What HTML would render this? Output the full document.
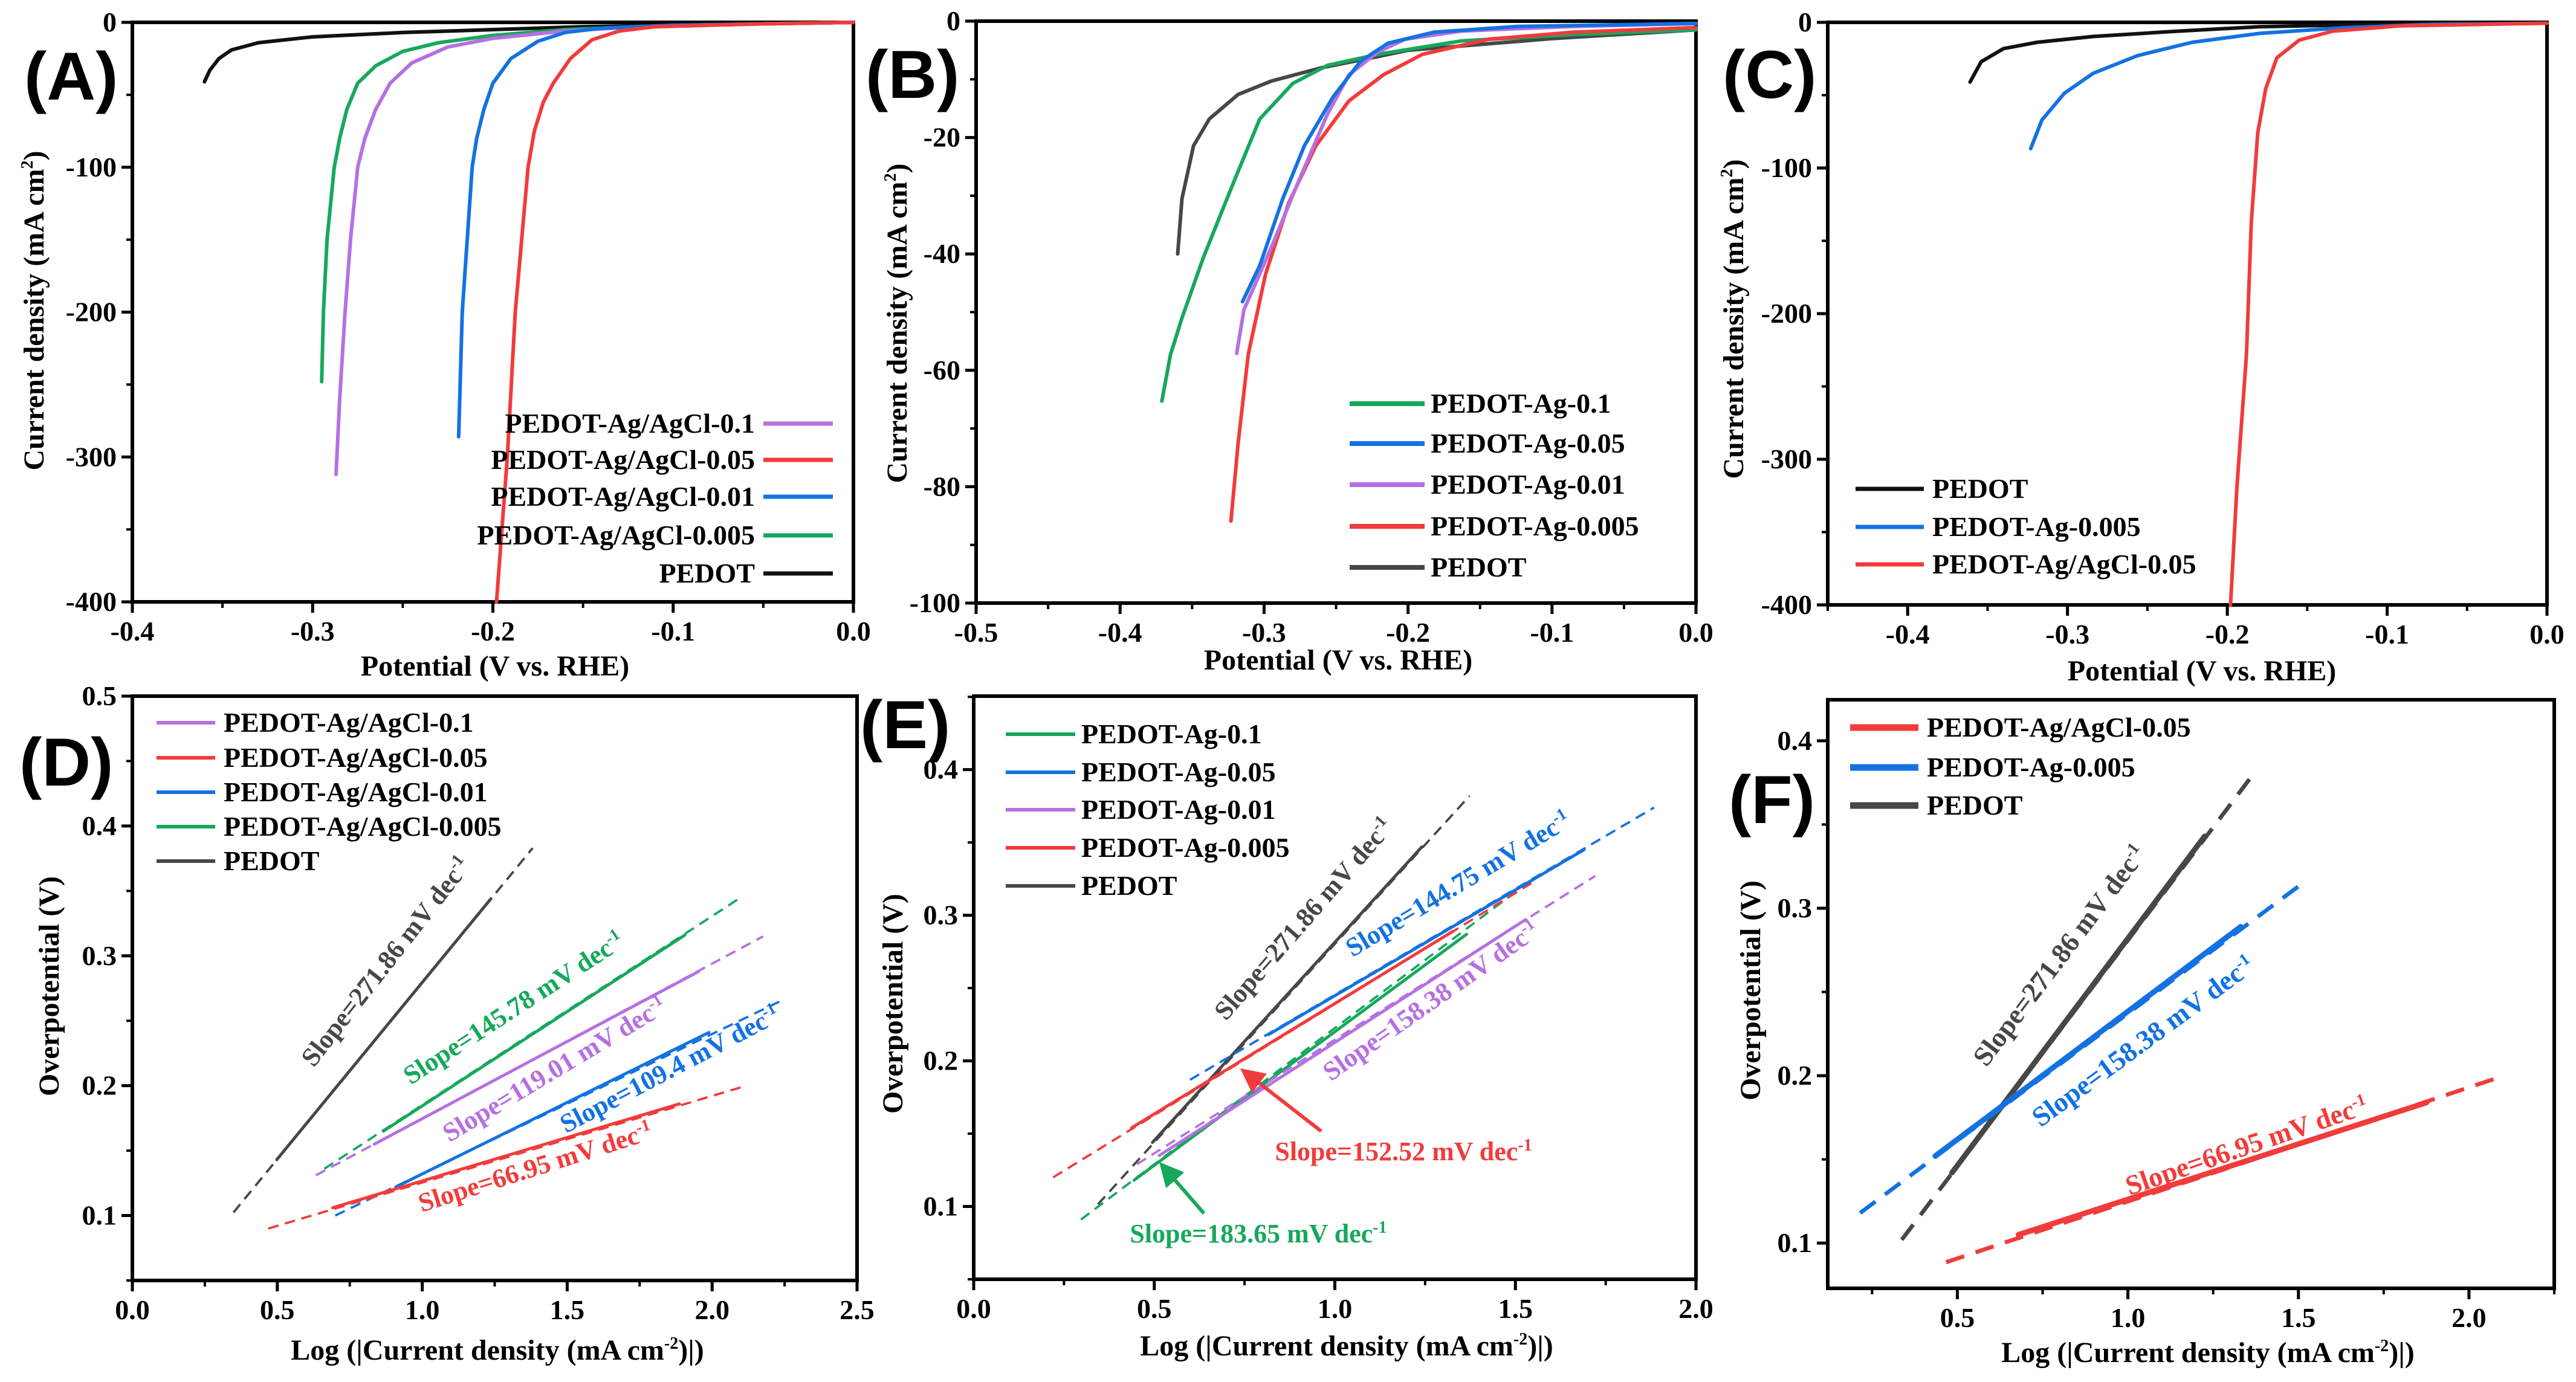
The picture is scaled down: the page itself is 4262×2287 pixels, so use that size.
<!DOCTYPE html>
<html><head><meta charset="utf-8"><style>html,body{margin:0;padding:0;background:#fff}svg{display:block}svg text{font-family:"Liberation Serif","DejaVu Serif",serif;font-weight:bold}svg text.sans{font-family:"Liberation Sans",sans-serif}</style></head>
<body>
<svg id="fig" xmlns="http://www.w3.org/2000/svg" width="4262" height="2287" viewBox="0 0 4262 2287">
<rect width="4262" height="2287" fill="#fff"/>
</svg>
<script>
// ---------- data ----------
const A_pedot = [[-0.36,-41],[-0.357,-33],[-0.352,-25],[-0.345,-19],[-0.33,-14],[-0.3,-10],[-0.25,-7],[-0.2,-5],[-0.15,-3],[-0.1,-2],[-0.05,-1],[0,0]];
const A_agcl005 = [[-0.295,-248],[-0.294,-200],[-0.292,-150],[-0.288,-100],[-0.285,-80],[-0.281,-60],[-0.275,-42],[-0.265,-30],[-0.25,-20],[-0.23,-14],[-0.2,-9],[-0.16,-5],[-0.12,-3],[-0.05,-1],[0,0]];
const A_agcl01 = [[-0.287,-312],[-0.285,-260],[-0.282,-200],[-0.279,-150],[-0.275,-100],[-0.271,-80],[-0.265,-60],[-0.257,-42],[-0.245,-28],[-0.225,-17],[-0.2,-11],[-0.16,-6],[-0.12,-3],[-0.05,-1],[0,0]];
const A_agcl001 = [[-0.219,-286],[-0.217,-200],[-0.2115,-100],[-0.209,-80],[-0.205,-60],[-0.2,-42],[-0.19,-25],[-0.175,-13],[-0.16,-7],[-0.14,-4],[-0.1,-2],[-0.05,-1],[0,0]];
const A_agcl0005 = [[-0.198,-400],[-0.192,-300],[-0.1876,-200],[-0.1805,-100],[-0.177,-75],[-0.172,-55],[-0.1665,-42],[-0.157,-25],[-0.145,-12],[-0.13,-6],[-0.11,-3],[-0.05,-1],[0,0]];

const B_pedot = [[-0.36,-40],[-0.357,-30.5],[-0.349,-21.4],[-0.338,-16.8],[-0.318,-12.6],[-0.295,-10.3],[-0.26,-8],[-0.221,-6.1],[-0.2,-5],[-0.1,-3],[0,-1.5]];
const B_ag01 = [[-0.371,-65.3],[-0.365,-57.3],[-0.357,-51],[-0.342,-40.5],[-0.322,-28.2],[-0.303,-16.8],[-0.28,-10.7],[-0.256,-7.6],[-0.221,-5.7],[-0.163,-3.4],[-0.085,-2.3],[0,-1.5]];
const B_ag005 = [[-0.315,-48.2],[-0.303,-42],[-0.287,-30.5],[-0.272,-21.4],[-0.252,-13],[-0.233,-6.9],[-0.214,-3.8],[-0.182,-1.9],[-0.124,-0.9],[0,-0.4]];
const B_ag001 = [[-0.319,-57.1],[-0.314,-49.6],[-0.295,-38.9],[-0.276,-27.5],[-0.256,-16],[-0.241,-9.2],[-0.221,-5.3],[-0.202,-3.1],[-0.163,-1.7],[-0.085,-0.9],[0,-0.4]];
const B_ag0005 = [[-0.323,-85.9],[-0.318,-72.5],[-0.311,-57.3],[-0.299,-43.5],[-0.283,-31.3],[-0.264,-21.4],[-0.241,-13.7],[-0.217,-9.2],[-0.19,-5.7],[-0.144,-3.1],[-0.085,-1.9],[0,-1.1]];

const C_pedot = [[-0.361,-41],[-0.354,-27],[-0.34,-18],[-0.319,-13.7],[-0.284,-9.7],[-0.232,-6.1],[-0.18,-3],[-0.11,-1.5],[-0.051,-0.6]];
const C_ag0005 = [[-0.323,-86.7],[-0.316,-67],[-0.302,-48.7],[-0.284,-35],[-0.256,-22.8],[-0.222,-13.7],[-0.18,-7.6],[-0.127,-3.7],[-0.075,-1.5],[0,-0.6]];
const C_agcl005 = [[-0.198,-400],[-0.194,-319],[-0.188,-228],[-0.185,-137],[-0.181,-76],[-0.176,-45.6],[-0.169,-24.3],[-0.155,-12.2],[-0.134,-6],[-0.092,-2.4],[0,-0.6]];

// Tafel: [dashStart, solidStart, solidEnd, dashEnd] as [log j, eta]
const D_pedot = [[0.349,0.1024],[0.498,0.143],[1.237,0.344],[1.381,0.383]];
const D_agcl0005 = [[0.662,0.136],[0.866,0.165],[1.906,0.316],[2.099,0.345]];
const D_agcl01 = [[0.633,0.131],[0.835,0.155],[1.954,0.288],[2.176,0.315]];
const D_agcl001 = [[0.700,0.100],[0.909,0.122],[1.989,0.241],[2.234,0.265]];
const D_agcl005 = [[0.469,0.090],[0.691,0.106],[1.887,0.186],[2.118,0.200]];

const E_pedot = [[0.344,0.1015],[0.495,0.144],[1.241,0.347],[1.373,0.382]];
const E_ag01 = [[0.297,0.091],[0.444,0.118],[1.365,0.287],[1.505,0.317]];
const E_ag005 = [[0.599,0.187],[0.816,0.218],[1.690,0.345],[1.884,0.374]];
const E_ag001 = [[0.452,0.129],[0.514,0.135],[1.528,0.297],[1.721,0.327]];
const E_ag0005 = [[0.220,0.120],[0.437,0.154],[1.327,0.289],[1.544,0.322]];

const F_pedot = [[0.337,0.102],[0.484,0.142],[1.225,0.343],[1.371,0.381]];
const F_ag0005 = [[0.215,0.118],[0.435,0.152],[1.331,0.289],[1.526,0.317]];
const F_agcl005 = [[0.467,0.0886],[0.679,0.105],[1.876,0.184],[2.088,0.199]];

const ticksTopA_x = [-0.4,-0.3,-0.2,-0.1,0];
const ticksTopB_x = [-0.5,-0.4,-0.3,-0.2,-0.1,0];
const ticksTop_y400 = [0,-100,-200,-300,-400];
const ticksTop_y100 = [0,-20,-40,-60,-80,-100];
const ticksD_x = [0,0.5,1.0,1.5,2.0,2.5];
const ticksE_x = [0,0.5,1.0,1.5,2.0];
const ticksF_x = [0.5,1.0,1.5,2.0];
const ticksD_y = [0.1,0.2,0.3,0.4,0.5];
const ticksEF_y = [0.1,0.2,0.3,0.4];

// ---------- drawing ----------
const NS='http://www.w3.org/2000/svg';
const svg=document.getElementById('fig');
const COL={green:'#16a85c',purple:'#b670e2',red:'#f23b3b',blue:'#1372e2',black:'#111',gray:'#474747'};
const SERIF='Liberation Serif, serif';
function el(tag,attrs,parent){const e=document.createElementNS(NS,tag);for(const k in attrs)e.setAttribute(k,attrs[k]);(parent||svg).appendChild(e);return e;}

const P={
 A:{l:219,r:1412,t:37,b:996,x0:-0.4,x1:0,y0:-400,y1:0},
 B:{l:1615,r:2806,t:35,b:998,x0:-0.5,x1:0,y0:-100,y1:0},
 C:{l:3024,r:4214,t:37,b:1001,x0:-0.45,x1:0,y0:-400,y1:0},
 D:{l:219,r:1418,t:1152,b:2119,x0:0,x1:2.5,y0:0.05,y1:0.5},
 E:{l:1611,r:2806,t:1152,b:2117,x0:0,x1:2,y0:0.05,y1:0.4505},
 F:{l:3024,r:4226,t:1158,b:2132,x0:0.12,x1:2.25,y0:0.073,y1:0.4245}
};
function sx(p,v){return p.l+(v-p.x0)/(p.x1-p.x0)*(p.r-p.l);}
function sy(p,v){return p.b-(v-p.y0)/(p.y1-p.y0)*(p.b-p.t);}

function axes(key,xt,yt,xstep,ystep,fmtX,fmtY){
  const p=P[key];
  const g=el('g',{});
  
  
  for(let k=Math.ceil(p.x0/(xstep/2)-1e-9);k*xstep/2<=p.x1+1e-9;k++){const x=sx(p,k*xstep/2);el('line',{x1:x,y1:p.b,x2:x,y2:p.b+10,stroke:'#000','stroke-width':4},g);}
  for(let k=Math.ceil(p.y0/(ystep/2)-1e-9);k*ystep/2<=p.y1+1e-9;k++){const y=sy(p,k*ystep/2);el('line',{x1:p.l,y1:y,x2:p.l-10,y2:y,stroke:'#000','stroke-width':4},g);}
  xt.forEach(v=>{const x=sx(p,v);el('line',{x1:x,y1:p.b,x2:x,y2:p.b+18,stroke:'#000','stroke-width':5},g);
    const t=el('text',{x:x,y:p.b+64,'text-anchor':'middle','font-family':SERIF,'font-weight':'bold','font-size':46},g);t.textContent=fmtX(v);
    
    });
  yt.forEach(v=>{const y=sy(p,v);el('line',{x1:p.l,y1:y,x2:p.l-18,y2:y,stroke:'#000','stroke-width':5},g);
    const t=el('text',{x:p.l-26,y:y+15,'text-anchor':'end','font-family':SERIF,'font-weight':'bold','font-size':46},g);t.textContent=fmtY(v);
    
    });
  el('rect',{x:p.l,y:p.t,width:p.r-p.l,height:p.b-p.t,fill:'none',stroke:'#000','stroke-width':6},g);
}
function curve(key,pts,color,name,w){
  const p=P[key];
  const d=pts.map((q,i)=>(i?'L':'M')+sx(p,q[0]).toFixed(1)+','+sy(p,q[1]).toFixed(1)).join(' ');
  const e=el('path',{d:d,fill:'none',stroke:color,'stroke-width':w||6,'stroke-linejoin':'round','stroke-linecap':'round'});
  
  
}
function tafel(key,pts,color,name,w){
  const p=P[key];w=w||5;
  const dash=el('path',{d:'M'+sx(p,pts[0][0])+','+sy(p,pts[0][1])+' L'+sx(p,pts[3][0])+','+sy(p,pts[3][1]),fill:'none',stroke:color,'stroke-width':w*0.75,'stroke-dasharray':(w*3.5)+' '+(w*2.2)});
  
  
  const s=el('path',{d:'M'+sx(p,pts[1][0])+','+sy(p,pts[1][1])+' L'+sx(p,pts[2][0])+','+sy(p,pts[2][1]),fill:'none',stroke:color,'stroke-width':w,'stroke-linecap':'round'});
  
  
}
function txt(x,y,str,opts,name){
  const t=el('text',Object.assign({x:x,y:y,'font-family':SERIF,'font-weight':'bold','font-size':46},opts||{}));
  t.innerHTML=str;
  
  
  return t;
}
function legendRow(x1,x2,y,color,label,textX,anchor,w){
  const l=el('line',{x1:x1,y1:y,x2:x2,y2:y,stroke:color,'stroke-width':w||7});
  
  
  txt(textX,y+15,label,{'text-anchor':anchor||'start'},'legend-entry');
}
function panelLetter(x,y,s){const t=el('text',{x:x,y:y,'class':'sans','font-family':'Liberation Sans, sans-serif','font-weight':'bold','font-size':112});t.textContent=s;
  
  }
function rotTitle(cx,cy,html,name){txt(cx,cy,html,{'text-anchor':'middle','font-size':48,transform:'rotate(-90 '+cx+' '+cy+')'},name);}
function slopeLabel(cx,cy,ang,html,color,name,fs){txt(cx,cy,html,{'text-anchor':'middle',fill:color,'font-size':fs||44,transform:'rotate('+ang+' '+cx+' '+cy+')'},name);}

const f1=v=>v===0?'0.0':v.toFixed(1), fi=v=>String(v);
const sup='<tspan font-size="28" dy="-18">2</tspan><tspan dy="18">)</tspan>';
const supm='<tspan font-size="28" dy="-18">-2</tspan><tspan dy="18">)|)</tspan>';
const dec='<tspan font-size="28" dy="-16">-1</tspan>';

// ---- A ----
axes('A',ticksTopA_x,ticksTop_y400,0.1,100,f1,fi);
curve('A',A_pedot,COL.black,'curve-pedot');
curve('A',A_agcl005,COL.green,'curve-agcl-0.005');
curve('A',A_agcl01,COL.purple,'curve-agcl-0.1');
curve('A',A_agcl001,COL.blue,'curve-agcl-0.01');
curve('A',A_agcl0005,COL.red,'curve-agcl-0.05');
[['PEDOT-Ag/AgCl-0.1',COL.purple,701],['PEDOT-Ag/AgCl-0.05',COL.red,761],['PEDOT-Ag/AgCl-0.01',COL.blue,822],['PEDOT-Ag/AgCl-0.005',COL.green,886],['PEDOT',COL.black,949]].forEach(r=>legendRow(1263,1378,r[2],r[1],r[0],1249,'end'));
rotTitle(72,514,'Current density (mA cm'+sup,'y-axis-title-a');
txt(819,1118,'Potential (V vs. RHE)',{'text-anchor':'middle','font-size':48},'x-axis-title-a');
panelLetter(40,165,'(A)');

// ---- B ----
axes('B',ticksTopB_x,ticksTop_y100,0.1,20,f1,fi);
curve('B',B_pedot,COL.gray,'curve-pedot');
curve('B',B_ag01,COL.green,'curve-ag-0.1');
curve('B',B_ag0005,COL.red,'curve-ag-0.005');
curve('B',B_ag001,COL.purple,'curve-ag-0.01');
curve('B',B_ag005,COL.blue,'curve-ag-0.05');
[['PEDOT-Ag-0.1',COL.green,668],['PEDOT-Ag-0.05',COL.blue,734],['PEDOT-Ag-0.01',COL.purple,802],['PEDOT-Ag-0.005',COL.red,871],['PEDOT',COL.gray,939]].forEach(r=>legendRow(2233,2357,r[2],r[1],r[0],2367,'start',8));
rotTitle(1500,535,'Current density (mA cm'+sup,'y-axis-title-b');
txt(2214,1108,'Potential (V vs. RHE)',{'text-anchor':'middle','font-size':48},'x-axis-title-b');
panelLetter(1432,162,'(B)');

// ---- C ----
axes('C',ticksTopA_x,ticksTop_y400,0.1,100,f1,fi);
curve('C',C_pedot,COL.black,'curve-pedot');
curve('C',C_ag0005,COL.blue,'curve-ag-0.005');
curve('C',C_agcl005,COL.red,'curve-agcl-0.05');
[['PEDOT',COL.black,809],['PEDOT-Ag-0.005',COL.blue,872],['PEDOT-Ag/AgCl-0.05',COL.red,934]].forEach(r=>legendRow(3070,3183,r[2],r[1],r[0],3197,'start'));
rotTitle(2884,528,'Current density (mA cm'+sup,'y-axis-title-c');
txt(3643,1126,'Potential (V vs. RHE)',{'text-anchor':'middle','font-size':48},'x-axis-title-c');
panelLetter(2850,162,'(C)');

// ---- D ----
axes('D',ticksD_x,ticksD_y,0.5,0.1,v=>v.toFixed(1),v=>v.toFixed(1));
tafel('D',D_pedot,COL.gray,'tafel-pedot');
tafel('D',D_agcl0005,COL.green,'tafel-agcl-0.005');
tafel('D',D_agcl01,COL.purple,'tafel-agcl-0.1');
tafel('D',D_agcl001,COL.blue,'tafel-agcl-0.01');
tafel('D',D_agcl005,COL.red,'tafel-agcl-0.05');
[['PEDOT-Ag/AgCl-0.1',COL.purple,1196],['PEDOT-Ag/AgCl-0.05',COL.red,1254],['PEDOT-Ag/AgCl-0.01',COL.blue,1311],['PEDOT-Ag/AgCl-0.005',COL.green,1368],['PEDOT',COL.gray,1425]].forEach(r=>legendRow(259,356,r[2],r[1],r[0],370,'start',6));
slopeLabel(650,1600,-52,'Slope=271.86 mV dec'+dec,COL.gray,'slope-label-pedot',44);
slopeLabel(858,1680,-33,'Slope=145.78 mV dec'+dec,COL.green,'slope-label-agcl-0.005',44);
slopeLabel(925,1782,-31,'Slope=119.01 mV dec'+dec,COL.purple,'slope-label-agcl-0.1',44);
slopeLabel(1115,1782,-27.7,'Slope=109.4 mV dec'+dec,COL.blue,'slope-label-agcl-0.01',44);
slopeLabel(890,1945,-17.6,'Slope=66.95 mV dec'+dec,COL.red,'slope-label-agcl-0.05',44);
rotTitle(97,1632,'Overpotential (V)','y-axis-title-d');
txt(823,2250,'Log (|Current density (mA cm'+supm,{'text-anchor':'middle','font-size':48},'x-axis-title-d');
panelLetter(32,1300,'(D)');

// ---- E ----
axes('E',ticksE_x,ticksEF_y,0.5,0.1,v=>v.toFixed(1),v=>v.toFixed(1));
tafel('E',E_pedot,COL.gray,'tafel-pedot');
tafel('E',E_ag01,COL.green,'tafel-ag-0.1');
tafel('E',E_ag0005,COL.red,'tafel-ag-0.005');
tafel('E',E_ag001,COL.purple,'tafel-ag-0.01');
tafel('E',E_ag005,COL.blue,'tafel-ag-0.05');
[['PEDOT-Ag-0.1',COL.green,1215],['PEDOT-Ag-0.05',COL.blue,1278],['PEDOT-Ag-0.01',COL.purple,1340],['PEDOT-Ag-0.005',COL.red,1403],['PEDOT',COL.gray,1466]].forEach(r=>legendRow(1664,1779,r[2],r[1],r[0],1789,'start',6));
slopeLabel(2168,1530,-49,'Slope=271.86 mV dec'+dec,COL.gray,'slope-label-pedot',44);
slopeLabel(2420,1475,-31,'Slope=144.75 mV dec'+dec,COL.blue,'slope-label-ag-0.05',44);
slopeLabel(2376,1668,-35,'Slope=158.38 mV dec'+dec,COL.purple,'slope-label-ag-0.01',44);
txt(2322,1920,'Slope=152.52 mV dec'+dec,{'text-anchor':'middle',fill:COL.red,'font-size':44},'slope-label-ag-0.005');
txt(2082,2056,'Slope=183.65 mV dec'+dec,{'text-anchor':'middle',fill:COL.green,'font-size':44},'slope-label-ag-0.1');
function arrow(x1,y1,x2,y2,c,name){const a=Math.atan2(y2-y1,x2-x1),L=40,W=20;
  const l=el('line',{x1:x1,y1:y1,x2:x2-Math.cos(a)*L*0.8,y2:y2-Math.sin(a)*L*0.8,stroke:c,'stroke-width':6});
  
  
  const bx=x2-Math.cos(a)*L,by=y2-Math.sin(a)*L;
  const h=el('polygon',{points:x2+','+y2+' '+(bx-Math.sin(a)*W)+','+(by+Math.cos(a)*W)+' '+(bx+Math.sin(a)*W)+','+(by-Math.cos(a)*W),fill:c});
  
  }
arrow(2186,1872,2052,1768,COL.red,'arrow-ag-0.005');
arrow(1992,2008,1918,1923,COL.green,'arrow-ag-0.1');
rotTitle(1493,1661,'Overpotential (V)','y-axis-title-e');
txt(2228,2243,'Log (|Current density (mA cm'+supm,{'text-anchor':'middle','font-size':48},'x-axis-title-e');
panelLetter(1423,1238,'(E)');

// ---- F ----
axes('F',ticksF_x,ticksEF_y,0.5,0.1,v=>v.toFixed(1),v=>v.toFixed(1));
tafel('F',F_pedot,COL.gray,'tafel-pedot',9);
tafel('F',F_ag0005,COL.blue,'tafel-ag-0.005',9);
tafel('F',F_agcl005,COL.red,'tafel-agcl-0.05',9);
[['PEDOT-Ag/AgCl-0.05',COL.red,1204],['PEDOT-Ag-0.005',COL.blue,1270],['PEDOT',COL.gray,1333]].forEach(r=>legendRow(3061,3174,r[2],r[1],r[0],3188,'start',11));
slopeLabel(3420,1590,-53,'Slope=271.86 mV dec'+dec,COL.gray,'slope-label-pedot',46);
slopeLabel(3555,1735,-36.3,'Slope=158.38 mV dec'+dec,COL.blue,'slope-label-ag-0.005',46);
slopeLabel(3722,1910,-19,'Slope=66.95 mV dec'+dec,COL.red,'slope-label-agcl-0.05',46);
rotTitle(2912,1639,'Overpotential (V)','y-axis-title-f');
txt(3653,2254,'Log (|Current density (mA cm'+supm,{'text-anchor':'middle','font-size':48},'x-axis-title-f');
panelLetter(2860,1362,'(F)');
</script>
</body></html>
